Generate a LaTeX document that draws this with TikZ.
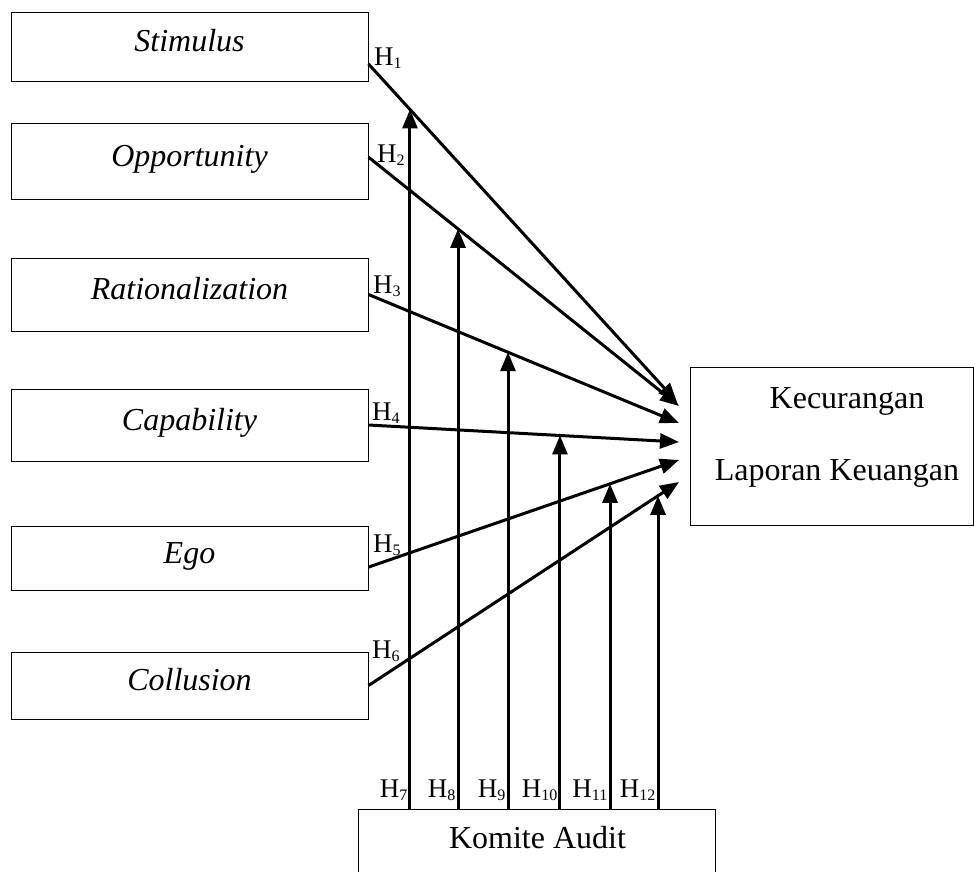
\documentclass[tikz,border=0pt]{standalone}
\usepackage{fontspec}
\setmainfont{Liberation Serif}
\usetikzlibrary{arrows.meta,calc}
\newcommand{\hlab}[1]{H\raisebox{-3pt}{\fontsize{16}{18}\selectfont #1}}
\begin{document}
\begin{tikzpicture}[x=1pt,y=-1pt,
 box/.style={draw, line width=1pt, inner sep=0pt},
 lbox/.style={box, minimum width=357pt, font=\fontsize{32}{38}\selectfont\itshape, text height=22pt, text depth=12pt},
 arr/.style={line width=3pt, -{Triangle[length=19pt,width=15pt]}},
 hl/.style={font=\fontsize{27}{30}\selectfont, inner sep=0pt},
 txt/.style={font=\fontsize{32}{38}\selectfont, inner sep=0pt}]
\useasboundingbox (0,0) rectangle (974,871);
% left boxes
\node[lbox, minimum height=69pt] (s) at (189.5,46.5) {Stimulus};
\node[lbox, minimum height=76pt] (o) at (189.5,161) {Opportunity};
\node[lbox, minimum height=73pt] (r) at (189.5,294.5) {Rationalization};
\node[lbox, minimum height=72pt] (c) at (189.5,425) {Capability};
\node[lbox, minimum height=64pt] (e) at (189.5,558) {Ego};
\node[lbox, minimum height=67pt] (l) at (189.5,685.5) {Collusion};
% dependent
\node[box, minimum width=283pt, minimum height=158pt] (k) at (831.5,446) {};
\node[txt, anchor=base] (k1) at (847,408) {Kecurangan};
\node[txt, anchor=base] (k2) at (837,480) {Laporan Keuangan};
% moderator
\node[box, minimum width=357pt, minimum height=100pt, anchor=north] (a) at (536.5,809) {};
\node[txt, anchor=base] (at) at (537.5,848) {Komite Audit};
% start and end points
\coordinate (p1) at ($(s.north east)!0.75!(s.south east)$);
\coordinate (p2) at ($(o.north east)!0.45!(o.south east)$);
\coordinate (p3) at (r.east);
\coordinate (p4) at (c.east);
\coordinate (p5) at ($(e.north east)!0.64!(e.south east)$);
\coordinate (p6) at (l.east);
\coordinate (t1) at (677,402);
\coordinate (t2) at (679,406);
\coordinate (t3) at (679,423);
\coordinate (t4) at (679,442);
\coordinate (t5) at (679,460);
\coordinate (t6) at (679,482);
\foreach \i in {1,...,6}{\draw[arr] (p\i) -- (t\i);}
% moderating arrows
\coordinate (m7) at (intersection cs: first line={(p1)--(t1)}, second line={(410,0)--(410,900)});
\coordinate (m8) at (intersection cs: first line={(p2)--(t2)}, second line={(458,0)--(458,900)});
\coordinate (m9) at (intersection cs: first line={(p3)--(t3)}, second line={(508,0)--(508,900)});
\coordinate (m10) at (intersection cs: first line={(p4)--(t4)}, second line={(560,0)--(560,900)});
\coordinate (m11) at (intersection cs: first line={(p5)--(t5)}, second line={(610,0)--(610,900)});
\coordinate (m12) at (intersection cs: first line={(p6)--(t6)}, second line={(658,0)--(658,900)});
\foreach \i in {7,...,12}{\draw[arr] (m\i |- a.north) -- (m\i);}
% labels
\node[hl, anchor=base west] (h1) at (374,65) {\hlab{1}};
\node[hl, anchor=base west] (h2) at (377,162) {\hlab{2}};
\node[hl, anchor=base west] (h3) at (373,293) {\hlab{3}};
\node[hl, anchor=base west] (h4) at (372,420) {\hlab{4}};
\node[hl, anchor=base west] (h5) at (373,552) {\hlab{5}};
\node[hl, anchor=base west] (h6) at (372,658) {\hlab{6}};
\foreach \i in {7,...,12}{\node[hl, anchor=base east] (h\i) at ([xshift=-2.5pt]m\i |- 0,797) {\hlab{\i}};}
\end{tikzpicture}
\end{document}
